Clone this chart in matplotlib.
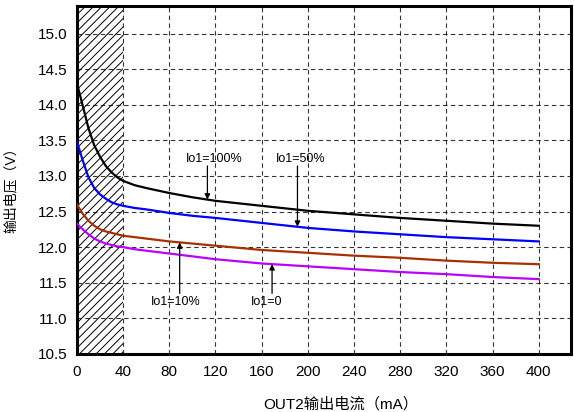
import numpy as np
import matplotlib
matplotlib.use("Agg")
import matplotlib.pyplot as plt

# output current (mA)
current = [0, 5, 10, 15, 20, 25, 30, 35, 40, 50, 60, 80, 100, 120, 160, 200, 240, 280, 320, 360, 400]

# output voltage (V) for each Io1 load
v_100 = [14.30, 13.99, 13.67, 13.43, 13.27, 13.14, 13.05, 12.98, 12.93, 12.87, 12.83, 12.76, 12.70,
         12.65, 12.58, 12.51, 12.46, 12.41, 12.37, 12.33, 12.30]
v_50 = [13.48, 13.22, 12.98, 12.83, 12.74, 12.68, 12.63, 12.60, 12.58, 12.55, 12.53, 12.48, 12.44,
        12.41, 12.34, 12.27, 12.22, 12.18, 12.14, 12.11, 12.08]
v_10 = [12.60, 12.47, 12.37, 12.30, 12.25, 12.22, 12.20, 12.18, 12.16, 12.14, 12.12, 12.08, 12.05,
        12.02, 11.96, 11.92, 11.88, 11.85, 11.81, 11.78, 11.76]
v_0 = [12.33, 12.25, 12.18, 12.12, 12.08, 12.05, 12.03, 12.01, 12.00, 11.97, 11.95, 11.91, 11.87,
       11.83, 11.77, 11.73, 11.69, 11.65, 11.62, 11.58, 11.55]

xticks = list(range(0, 401, 40))
yticks = [10.5, 11.0, 11.5, 12.0, 12.5, 13.0, 13.5, 14.0, 14.5, 15.0]

plt.rcParams['font.family'] = ['Liberation Sans', 'Noto Sans CJK SC']
plt.rcParams['hatch.linewidth'] = 0.7

fig = plt.figure(figsize=(5.74, 4.12), dpi=100)
ax = fig.add_axes([0.134, 0.141, 0.861, 0.845])

# hatched unusable region 0-40 mA
ax.axvspan(0, 40, facecolor='none', edgecolor='black', hatch='////', linewidth=0, zorder=1)

ax.plot(current, v_100, color='black', lw=1.6, zorder=3)
ax.plot(current, v_50, color='#0000ff', lw=1.6, zorder=3)
ax.plot(current, v_10, color='#a83000', lw=1.6, zorder=3)
ax.plot(current, v_0, color='#bb00ff', lw=1.6, zorder=3)

ax.set_xlim(0, 428)
ax.set_ylim(10.5, 15.39)
ax.set_xticks(xticks)
ax.set_yticks(yticks)
ax.set_yticklabels([f"{v:.1f}" for v in yticks])
ax.tick_params(axis='both', length=0, labelsize=11)
ax.tick_params(axis='x', pad=8)
ax.tick_params(axis='y', pad=7)
ax.grid(True, color='black', linestyle=(0, (4, 3)), linewidth=0.8, alpha=0.8)
for sp in ax.spines.values():
    sp.set_linewidth(2.2)

ax.set_xlabel("OUT2输出电流（mA）", fontsize=11)
ax.xaxis.set_label_coords((341 - 77) / 494, -0.125)
ax.set_ylabel("输出电压（V）", fontsize=10)
ax.yaxis.set_label_coords(-0.12, 1 - (186.7 - 6) / 348)

# annotations with arrows to the curves
labels = [
    ("Io1=100%", 119, 13.24, 113, v_100, 13.14),
    ("Io1=50%", 194, 13.24, 191, v_50, 13.14),
    ("Io1=10%", 86, 11.23, 89, v_10, 11.35),
    ("Io1=0", 164, 11.23, 169, v_0, 11.35),
]
for txt, tx, ty, ax_x, ys, y0 in labels:
    ax.text(tx, ty, txt, ha='center', va='center', fontsize=9, zorder=4)
    tip = np.interp(ax_x, current, ys)
    ax.annotate("", xy=(ax_x, tip), xytext=(ax_x, y0),
                arrowprops=dict(arrowstyle='-|>', color='black', lw=0.9,
                                mutation_scale=8, shrinkA=0, shrinkB=0), zorder=4)

fig.savefig("out.png", dpi=100)
